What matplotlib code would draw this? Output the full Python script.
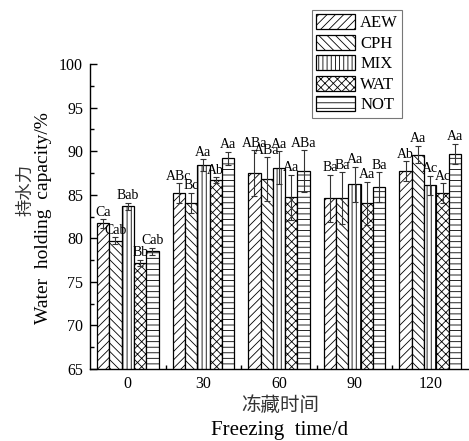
import matplotlib
matplotlib.use("Agg")
import matplotlib.pyplot as plt
import numpy as np
from matplotlib.ticker import MultipleLocator, FixedLocator

categories = ["0", "30", "60", "90", "120"]
series = ["AEW", "CPH", "MIX", "WAT", "NOT"]
AEW = [81.7, 85.2, 87.5, 84.6, 87.7]
CPH = [79.7, 84.1, 86.8, 84.6, 89.6]
MIX = [83.7, 88.4, 88.1, 86.2, 86.1]
WAT = [77.2, 86.7, 84.7, 84.0, 85.2]
NOT = [78.5, 89.2, 87.7, 85.85, 89.7]
AEW_err = [0.5, 1.1, 2.6, 2.7, 1.15]
CPH_err = [0.4, 1.15, 2.5, 3.0, 1.0]
MIX_err = [0.4, 0.7, 1.9, 2.0, 1.1]
WAT_err = [0.35, 0.3, 2.6, 2.5, 1.1]
NOT_err = [0.4, 0.75, 2.4, 1.7, 1.15]
AEW_lab = ["Ca", "ABc", "ABa", "Ba", "Ab"]
CPH_lab = ["Cab", "Bc", "ABa", "Ba", "Aa"]
MIX_lab = ["Bab", "Aa", "Aa", "Aa", "Ac"]
WAT_lab = ["Bb", "Ab", "Aa", "Aa", "Ac"]
NOT_lab = ["Cab", "Aa", "ABa", "Ba", "Aa"]

values = [AEW, CPH, MIX, WAT, NOT]
errors = [AEW_err, CPH_err, MIX_err, WAT_err, NOT_err]
letters = [AEW_lab, CPH_lab, MIX_lab, WAT_lab, NOT_lab]
hatches = ["////", "\\\\\\\\", "||||", "xxxx", "---"]

plt.rcParams["font.family"] = ["Liberation Serif", "DejaVu Serif"]
plt.rcParams["hatch.linewidth"] = 0.6

fig = plt.figure(figsize=(4.69, 4.41), dpi=100)
ax = fig.add_axes([90/469, 1-369/441, (468-90)/469, (369-64)/441])

x = np.arange(len(categories))
w = 0.163
handles = []
for i, (vals, errs, labs, h, name) in enumerate(zip(values, errors, letters, hatches, series)):
    pos = x + (i - 2) * w
    b = ax.bar(pos, vals, width=w, color="white", edgecolor="black",
               hatch=h, linewidth=0.9, label=name, zorder=2)
    handles.append(b)
    ax.errorbar(pos, vals, yerr=errs, fmt="none", ecolor="#333333",
                elinewidth=0.8, capsize=2.5, capthick=0.8, zorder=3)
    for p, v, e, t in zip(pos, vals, errs, labs):
        ax.text(p, v + e + 0.05, t, ha="center", va="bottom", fontsize=10, zorder=4)

ax.set_xlim(-0.5, 4.5)
ax.set_ylim(65, 100)
ax.set_xticks(x)
ax.set_xticklabels(categories)
ax.xaxis.set_minor_locator(FixedLocator([0.5, 1.5, 2.5, 3.5]))
ax.yaxis.set_major_locator(MultipleLocator(5))
ax.yaxis.set_minor_locator(MultipleLocator(2.5))
for s in ["top", "right"]:
    ax.spines[s].set_visible(False)
for s in ["left", "bottom"]:
    ax.spines[s].set_linewidth(1.0)
ax.tick_params(axis="both", which="major", direction="in", length=5, width=1, labelsize=11.5, pad=5)
ax.tick_params(axis="both", which="minor", direction="in", length=3, width=1)

leg = fig.legend(handles=handles, labels=series, loc="upper left",
                 bbox_to_anchor=(312/469, 1-10/441), bbox_transform=fig.transFigure,
                 fontsize=12, frameon=True, fancybox=False, shadow=False,
                 handlelength=2.3, handleheight=1.0, labelspacing=0.2,
                 handletextpad=0.35, borderpad=0.25, borderaxespad=0)
leg.get_frame().set_edgecolor("#555555")
leg.get_frame().set_linewidth(0.8)

fig.text(25/469, 1-190/441, "持水力", rotation=90, ha="center", va="center",
         fontsize=12.5, family=["Noto Sans CJK SC", "DejaVu Sans"], color="#333333")
fig.text(44/469, 1-218/441, "Water  holding  capacity/%", rotation=90, ha="center", va="center",
         fontsize=14)
fig.text(280/469, 1-405/441, "冻藏时间", ha="center", va="center",
         fontsize=14, family=["Noto Sans CJK SC", "DejaVu Sans"], color="#333333")
fig.text(280/469, 1-430/441, "Freezing  time/d", ha="center", va="center", fontsize=15)

fig.savefig("out.png", dpi=100)
